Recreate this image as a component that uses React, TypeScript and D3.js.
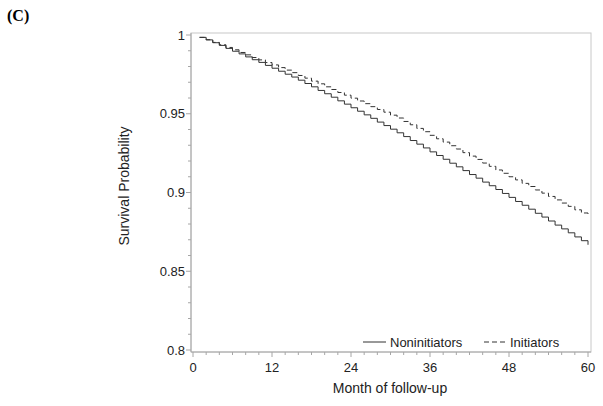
import React from "react";
import * as d3 from "d3";

const months = Array.from({ length: 60 }, (_, i) => i + 1);

const noninitiators = [
  0.9985, 0.9969, 0.9951, 0.9934, 0.9915, 0.9897, 0.9880, 0.9861, 0.9843, 0.9826,
  0.9807, 0.9789, 0.9770, 0.9751, 0.9733, 0.9713, 0.9692, 0.9671, 0.9648, 0.9627,
  0.9605, 0.9582, 0.9561, 0.9538, 0.9516, 0.9493, 0.9471, 0.9447, 0.9425, 0.9402,
  0.9379, 0.9355, 0.9330, 0.9307, 0.9283, 0.9258, 0.9235, 0.9211, 0.9186, 0.9163,
  0.9139, 0.9114, 0.9091, 0.9066, 0.9043, 0.9019, 0.8994, 0.8969, 0.8943, 0.8919,
  0.8894, 0.8868, 0.8844, 0.8819, 0.8793, 0.8769, 0.8744, 0.8718, 0.8694, 0.8668,
];

const initiators = [
  0.9985, 0.9970, 0.9953, 0.9938, 0.9921, 0.9906, 0.9889, 0.9874, 0.9857, 0.9842,
  0.9825, 0.9810, 0.9793, 0.9777, 0.9761, 0.9743, 0.9726, 0.9707, 0.9690, 0.9671,
  0.9654, 0.9635, 0.9618, 0.9599, 0.9581, 0.9564, 0.9545, 0.9527, 0.9510, 0.9491,
  0.9473, 0.9451, 0.9430, 0.9407, 0.9386, 0.9363, 0.9341, 0.9320, 0.9297, 0.9276,
  0.9253, 0.9231, 0.9210, 0.9187, 0.9166, 0.9143, 0.9122, 0.9100, 0.9080, 0.9058,
  0.9038, 0.9016, 0.8996, 0.8975, 0.8953, 0.8933, 0.8912, 0.8890, 0.8870, 0.8848,
];

const xTicks = [0, 12, 24, 36, 48, 60];
const yTicks = [0.8, 0.85, 0.9, 0.95, 1];
const yTickLabels = ["0.8", "0.85", "0.9", "0.95", "1"];
const seriesNames = ["Noninitiators", "Initiators"];

export default function App() {
  const x = d3.scaleLinear().domain([0, 60]).range([193, 588]);
  const y = d3.scaleLinear().domain([0.8, 1]).range([350, 35]);
  const frame = { left: 191, right: 591, top: 33, bottom: 352 };
  const axisColor = "#a6a6a6";
  const textColor = "#222";
  const lineColor = "#333";
  const font = "'Liberation Sans', Arial, sans-serif";

  const xMinor = d3.range(0, 61, 2).filter((v) => v % 12 !== 0);
  const yMinor = d3.range(80, 101, 1).map((v) => v / 100).filter((v) => Math.round(v * 100) % 5 !== 0);

  const line = d3
    .line<number>()
    .x((_, i) => x(months[i]))
    .y((d) => y(d))
    .curve(d3.curveStepAfter);

  return (
    <svg width={603} height={406} style={{ position: "absolute", left: 0, top: 0, background: "#fff" }}>
      <text x={7} y={21} fontFamily="'Liberation Serif', 'DejaVu Serif', serif" fontWeight="bold" fontSize={16} fill="#000">
        (C)
      </text>
      {/* frame */}
      <rect x={frame.left} y={frame.top} width={frame.right - frame.left} height={frame.bottom - frame.top} fill="none" stroke="#c8c8c8" strokeWidth={1} />
      <line x1={frame.left} x2={frame.left} y1={frame.top} y2={frame.bottom} stroke={axisColor} />
      <line x1={frame.left} x2={frame.right} y1={frame.bottom} y2={frame.bottom} stroke={axisColor} />
      {/* y ticks */}
      {yTicks.map((t, i) => (
        <g key={"y" + t}>
          <line x1={frame.left - 5} x2={frame.left} y1={y(t)} y2={y(t)} stroke={axisColor} />
          <text x={frame.left - 6} y={y(t)} dy="0.35em" textAnchor="end" fontFamily={font} fontSize={13} fill={textColor}>
            {yTickLabels[i]}
          </text>
        </g>
      ))}
      {yMinor.map((t) => (
        <line key={"ym" + t} x1={frame.left - 3} x2={frame.left} y1={y(t)} y2={y(t)} stroke={axisColor} />
      ))}
      {/* x ticks */}
      {xTicks.map((t) => (
        <g key={"x" + t}>
          <line x1={x(t)} x2={x(t)} y1={frame.bottom} y2={frame.bottom + 5} stroke={axisColor} />
          <text x={x(t)} y={372} textAnchor="middle" fontFamily={font} fontSize={13} fill={textColor}>
            {t}
          </text>
        </g>
      ))}
      {xMinor.map((t) => (
        <line key={"xm" + t} x1={x(t)} x2={x(t)} y1={frame.bottom} y2={frame.bottom + 3} stroke={axisColor} />
      ))}
      {/* axis titles */}
      <text x={390} y={393} textAnchor="middle" fontFamily={font} fontSize={14} fill={textColor}>
        Month of follow-up
      </text>
      <text transform="translate(129,186) rotate(-90)" textAnchor="middle" fontFamily={font} fontSize={14} fill={textColor}>
        Survival Probability
      </text>
      {/* curves */}
      <path d={line(noninitiators) || ""} fill="none" stroke={lineColor} strokeWidth={1} />
      <path d={line(initiators) || ""} fill="none" stroke={lineColor} strokeWidth={1} strokeDasharray="5,3" />
      {/* legend */}
      <line x1={363} x2={386} y1={342} y2={342} stroke={lineColor} />
      <text x={390} y={346.5} fontFamily={font} fontSize={13} fill={textColor}>
        {seriesNames[0]}
      </text>
      <line x1={484} x2={506} y1={342} y2={342} stroke={lineColor} strokeDasharray="5,3" />
      <text x={510} y={346.5} fontFamily={font} fontSize={13} fill={textColor}>
        {seriesNames[1]}
      </text>
    </svg>
  );
}
